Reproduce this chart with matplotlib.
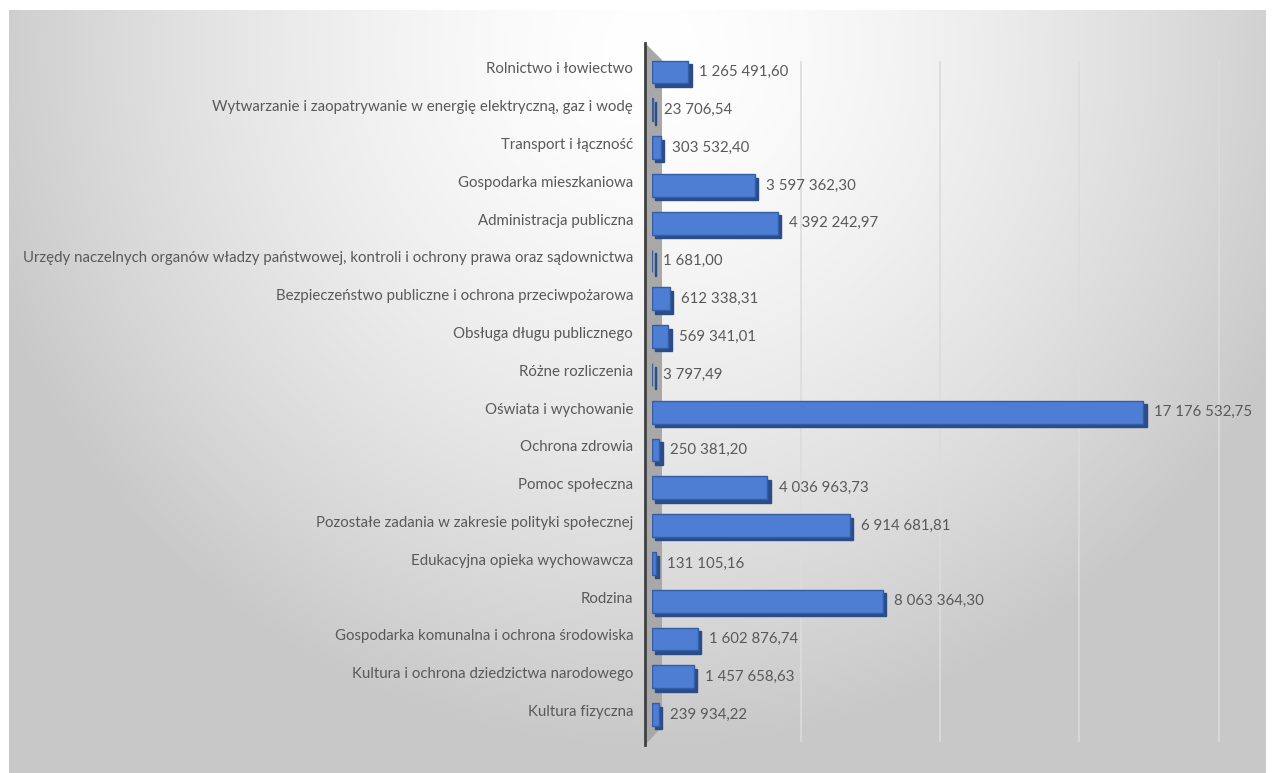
import numpy as np
import matplotlib
matplotlib.use("Agg")
import matplotlib.pyplot as plt
from matplotlib.patches import Polygon
from matplotlib.transforms import ScaledTranslation

# ------------------------------------------------------------
# data (top to bottom as in the chart)
# ------------------------------------------------------------
categories = [
    "Rolnictwo i łowiectwo",
    "Wytwarzanie i zaopatrywanie w energię elektryczną, gaz i wodę",
    "Transport i łączność",
    "Gospodarka mieszkaniowa",
    "Administracja publiczna",
    "Urzędy naczelnych organów władzy państwowej, kontroli i ochrony prawa oraz sądownictwa",
    "Bezpieczeństwo publiczne i ochrona przeciwpożarowa",
    "Obsługa długu publicznego",
    "Różne rozliczenia",
    "Oświata i wychowanie",
    "Ochrona zdrowia",
    "Pomoc społeczna",
    "Pozostałe zadania w zakresie polityki społecznej",
    "Edukacyjna opieka wychowawcza",
    "Rodzina",
    "Gospodarka komunalna i ochrona środowiska",
    "Kultura i ochrona dziedzictwa narodowego",
    "Kultura fizyczna",
]
values = [
    1265491.60, 23706.54, 303532.40, 3597362.30, 4392242.97, 1681.00,
    612338.31, 569341.01, 3797.49, 17176532.75, 250381.20, 4036963.73,
    6914681.81, 131105.16, 8063364.30, 1602876.74, 1457658.63, 239934.22,
]
grid_values = [5e6, 10e6, 15e6, 20e6]

W, H = 1273, 773
TXT = "#595959"
FONT = "Lato"


def fmt_pl(v):
    return f"{v:,.2f}".replace(",", " ").replace(".", ",")


def px(x, y):
    # pixel position -> figure fraction
    return (x / W, 1 - y / H)


fig = plt.figure(figsize=(W / 100, H / 100), dpi=100)
fig.patch.set_facecolor("white")

# gradient background of the chart area
bg = fig.add_axes([9 / W, 0, (1266 - 9) / W, (773 - 10) / H], zorder=-2)
xx, yy = np.meshgrid(np.arange(9, 1266), np.arange(10, 773))
d = np.hypot(xx - 650, yy - 50)
shade = 255 - 55 * np.clip(d / 700, 0, 1) ** 1.5
img = np.dstack([shade, shade, shade]).astype(np.uint8)
bg.imshow(img, aspect="auto", interpolation="bilinear")
bg.axis("off")

# 3D "wall" at the category axis
wall = Polygon([px(645, 43), px(662, 60), px(662, 727), px(645, 745)],
               closed=True, transform=fig.transFigure,
               facecolor="#a8a8a8", edgecolor="none", zorder=-1)
fig.add_artist(wall)
fig.add_artist(plt.Line2D([645 / W, 645 / W], [1 - 43 / H, 1 - 745 / H],
                          transform=fig.transFigure, color="#404040",
                          lw=2, zorder=-0.9))

# main axes: x=0 at pixel 652, 20M at pixel 1224
left, right = 652, 1224
top, bottom = 43, 745
ax = fig.add_axes([left / W, 1 - bottom / H, (right - left) / W, (bottom - top) / H])
ax.set_facecolor("none")

n = len(categories)
ypos = np.arange(n)
row_px = 37.8
first_px = 72
ax.set_xlim(0, 20e6)
ax.set_ylim((bottom - first_px) / row_px, (top - first_px) / row_px)

# gridlines sit on the back wall, slightly shifted by the perspective
for i, g in enumerate(grid_values):
    persp = ScaledTranslation((4 - 2.6 * i) / 72, 0, fig.dpi_scale_trans)
    ax.plot([g, g], [-0.26, 17.7], color="#dcdcdc", lw=1.2, zorder=0,
            transform=ax.transData + persp)

# bar depth (dark side), then the front face
shift = ax.transData + ScaledTranslation(2.5 / 72, -2.5 / 72, fig.dpi_scale_trans)
ax.barh(ypos, values, height=0.6, color="#2b4c87", edgecolor="#2b4c87",
        lw=1.0, transform=shift, zorder=2)
ax.barh(ypos, values, height=0.6, color="#4d7ed3", edgecolor="#345da6",
        lw=1.0, zorder=3)

for y, v in zip(ypos, values):
    ax.annotate(fmt_pl(v), (v, y), xytext=(8, 0), textcoords="offset points",
                ha="left", va="center", fontsize=10.8, color=TXT,
                family=FONT, clip_on=False)

ax.set_yticks(ypos)
ax.set_yticklabels(categories, fontsize=10.85, color=TXT, family=FONT)
ax.tick_params(axis="y", length=0, pad=13.5)
ax.set_xticks([])
for lbl in ax.get_yticklabels():
    lbl.set_transform(lbl.get_transform() + ScaledTranslation(0, 3 / 72, fig.dpi_scale_trans))
for s in ax.spines.values():
    s.set_visible(False)

fig.savefig("out.png", dpi=100)
